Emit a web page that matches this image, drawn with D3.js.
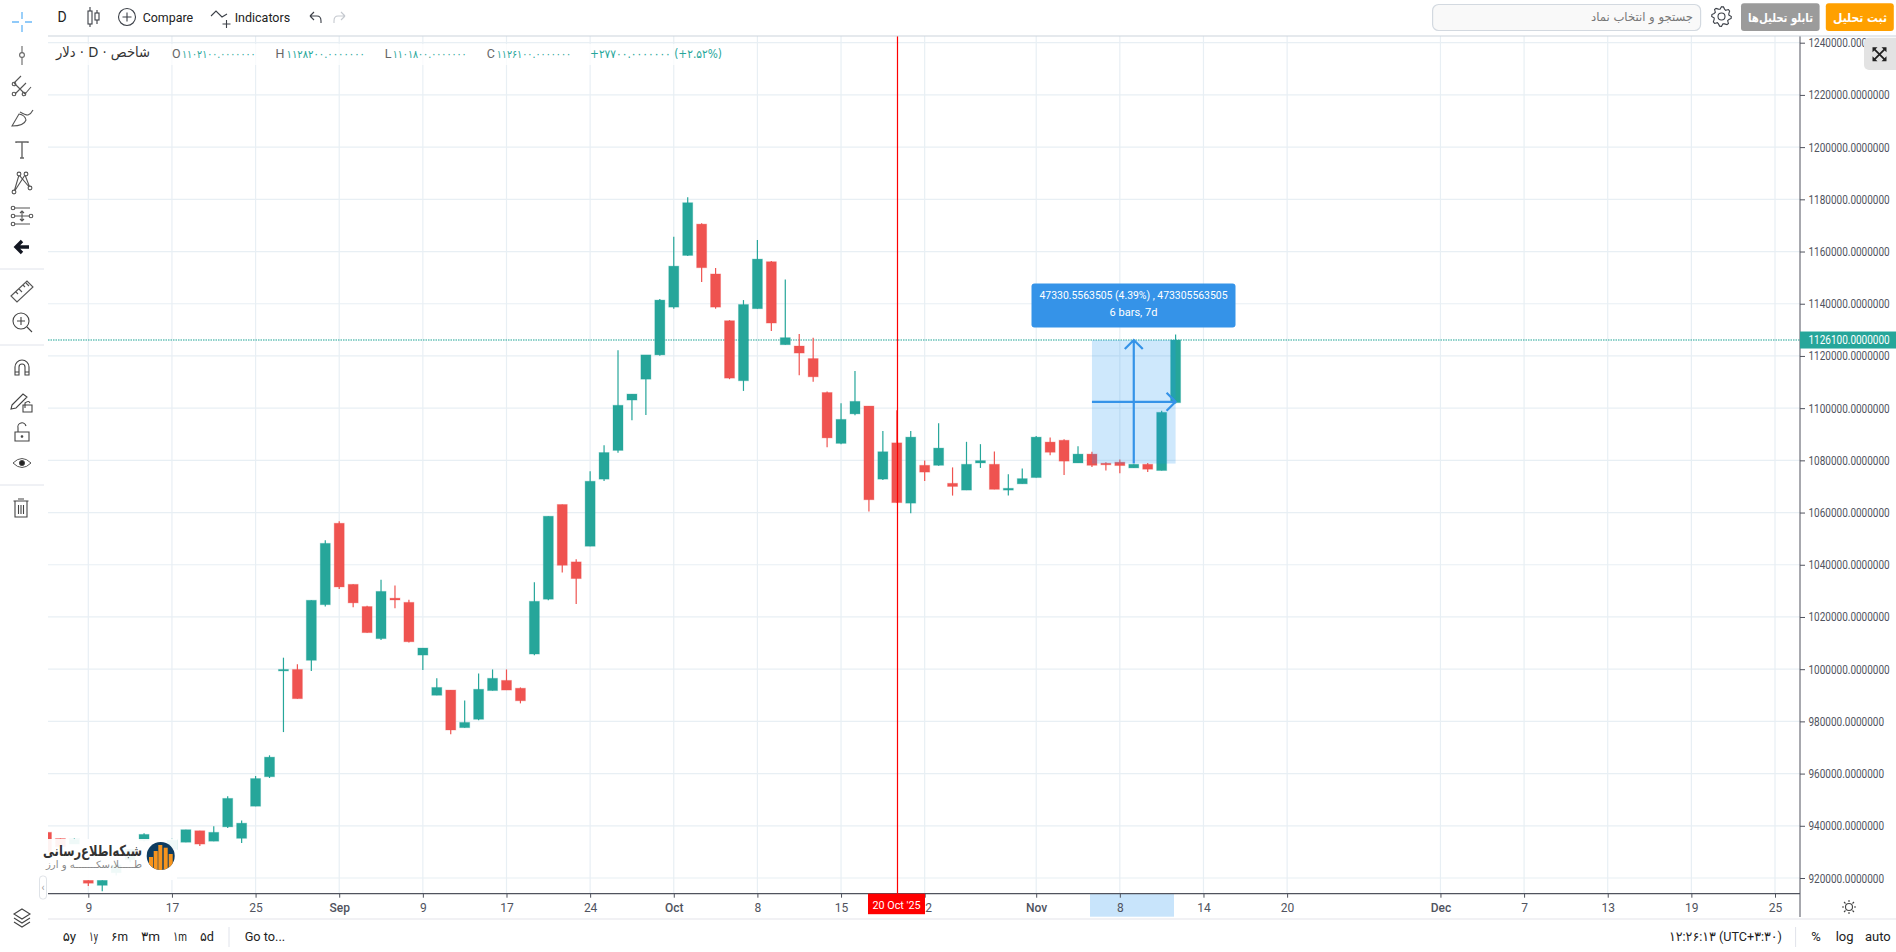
<!DOCTYPE html>
<html><head><meta charset="utf-8">
<style>html,body{margin:0;padding:0;background:#fff;overflow:hidden}svg{display:block}text{font-family:Roboto,"DejaVu Sans",sans-serif}</style>
<script src="https://cdn.jsdelivr.net/npm/d3@7/dist/d3.min.js"></script>
</head><body><svg id="c" width="1896" height="952"></svg>
<script>
// ---- data ----
const firstBarIndex = -3;
const opens  = [937500,935100,933000,919100,917200,922000,927000,934400,933000,931000,933700,938100,934100,939600,935200,947500,958800,999700,999900,1003400,1024700,1055900,1032500,1024000,1011700,1027200,1025600,1005400,990000,992000,977600,980800,991800,995700,992700,1005800,1026800,1063100,1041100,1047100,1072800,1083800,1103100,1111100,1120400,1138700,1158500,1170500,1151400,1133500,1110500,1138100,1156100,1124300,1123800,1119000,1106000,1086500,1097800,1100800,1072800,1086700,1063600,1078100,1078100,1071200,1068600,1079000,1078500,1068600,1071000,1073400,1087000,1087700,1079000,1082400,1078900,1079300,1077100,1078500,1076100,1102100];
const highs  = [937500,935100,935100,919100,919100,926000,931000,937100,934000,935000,938500,938100,939800,951300,942000,959100,967000,1004400,1001900,1026400,1049400,1056700,1032500,1024300,1034300,1032100,1026600,1008100,996500,992000,988000,998300,999900,999900,993000,1033300,1058600,1063100,1042100,1075800,1085800,1122200,1105400,1120400,1141800,1165700,1180800,1170800,1153700,1133700,1141400,1164400,1156400,1149300,1128400,1127000,1106400,1101900,1114200,1100800,1091200,1099200,1091200,1079900,1094200,1077300,1087100,1086200,1083400,1074700,1076900,1089300,1088800,1088100,1085400,1083300,1079300,1080300,1078500,1079000,1099000,1128200];
const lows   = [930000,932000,933000,916900,914900,921000,926000,934000,931000,930500,933700,932300,934100,939200,933400,947500,958300,975900,988700,999300,1024000,1030700,1023700,1014000,1011200,1023300,1010200,999700,990000,975100,977600,980400,991800,992000,986900,1005300,1026400,1037000,1025000,1047100,1072100,1082900,1095400,1097400,1120100,1138100,1158300,1148300,1138100,1111100,1106600,1138100,1129600,1124300,1112600,1110100,1085000,1086200,1097300,1060400,1072500,1063800,1059700,1072100,1077900,1066500,1068600,1077100,1068900,1066500,1071000,1073400,1082000,1074400,1079000,1077500,1076100,1075100,1077100,1075500,1076100,1101800];
const closes = [930000,932000,934800,918000,919100,925000,931000,936700,931000,934500,938500,933000,937500,950500,941000,958100,966300,999900,988700,1026400,1048200,1031500,1025400,1014000,1029800,1026500,1010500,1008100,993000,976700,979600,992300,996500,992000,987900,1026000,1058600,1039800,1034700,1072000,1083000,1101100,1105400,1120400,1141400,1154400,1178700,1153800,1138700,1111500,1139700,1157100,1132600,1127000,1121100,1112000,1088600,1095700,1102600,1064900,1083300,1063800,1088900,1075500,1084700,1070000,1078500,1079900,1068900,1069300,1073000,1088900,1083100,1079700,1082400,1078100,1078300,1078000,1078500,1076600,1098400,1126100];
const priceTicks = [920000,940000,960000,980000,1000000,1020000,1040000,1060000,1080000,1100000,1120000,1140000,1160000,1180000,1200000,1220000,1240000];
const timeTickIndex = [0,6,12,18,24,30,36,42,48,54,60,68,74,80,86,97,103,109,115,121];
const timeTickLabel = ["9","17","25","Sep","9","17","24","Oct","8","15","22","Nov","8","14","20","Dec","7","13","19","25"];
const crosshairIndex = 58.05, crosshairLabel = "20 Oct '25";
const lastPrice = 1126100, lastPriceLabel = "1126100.0000000";
const measureFromIndex = 72, measureToIndex = 78, measureLow = 1078770, measureHigh = 1126100;
const measureLine1 = "47330.5563505 (4.39%) , 473305563505", measureLine2 = "6 bars, 7d";

// ---- scales ----
const svg = d3.select("#c");
const L=48,R=1800,T=36,B=893.7;
const x = d3.scaleLinear().domain([0,121]).range([88.3,1775]);
const y = d3.scaleLinear().domain([920000,1240000]).range([878,42.7]);
const UP="#26a69a",DN="#ef5350",INK="#50535e",GRID="#e8eff4";
const fit=(s,w)=>s.attr("textLength",w).attr("lengthAdjust","spacingAndGlyphs");
function txt(p,t,px,py,o={}){const e=p.append("text").text(t).attr("x",px).attr("y",py).attr("dy","0.35em")
  .attr("font-size",o.size||13).attr("fill",o.fill||"#2a2e39").attr("text-anchor",o.anchor||"start");
  if(o.weight)e.attr("font-weight",o.weight); if(o.dir)e.attr("direction",o.dir); if(o.font)e.style("font-family",o.font);
  if(o.w)fit(e,o.w); return e;}
svg.append("defs").append("clipPath").attr("id","plot").append("rect").attr("x",L).attr("y",T).attr("width",R-L).attr("height",B-T);

// ---- grid ----
const grid=svg.append("g").attr("clip-path","url(#plot)").attr("stroke",GRID).attr("stroke-width",1.2);
grid.selectAll("line.h").data(priceTicks).join("line").attr("x1",L).attr("x2",R).attr("y1",d=>y(d)).attr("y2",d=>y(d));
grid.selectAll("line.v").data(timeTickIndex).join("line").attr("x1",d=>x(d)).attr("x2",d=>x(d)).attr("y1",T).attr("y2",B);

// ---- last price line ----
svg.append("line").attr("x1",L).attr("x2",R).attr("y1",y(lastPrice)).attr("y2",y(lastPrice))
  .attr("stroke",UP).attr("stroke-opacity",.7).attr("stroke-width",1.3).attr("stroke-dasharray","1.5 1");

// ---- candles ----
const bars=opens.map((o,k)=>({i:firstBarIndex+k,o,h:highs[k],l:lows[k],c:closes[k]}));
const cg=svg.append("g").attr("clip-path","url(#plot)");
cg.selectAll("line").data(bars).join("line").attr("x1",d=>x(d.i)).attr("x2",d=>x(d.i))
  .attr("y1",d=>y(d.h)).attr("y2",d=>y(d.l)).attr("stroke",d=>d.c>=d.o?UP:DN).attr("stroke-width",1.2);
cg.selectAll("rect").data(bars).join("rect").attr("x",d=>x(d.i)-5).attr("width",10)
  .attr("y",d=>y(Math.max(d.o,d.c))).attr("height",d=>Math.max(1.5,Math.abs(y(d.o)-y(d.c))))
  .attr("fill",d=>d.c>=d.o?UP:DN).attr("stroke",d=>d.c>=d.o?UP:DN).attr("stroke-opacity",.3).attr("stroke-width",1);

// ---- measure tool ----
const mx0=x(measureFromIndex),mx1=x(measureToIndex),my0=y(measureHigh),my1=y(measureLow),mxm=x((measureFromIndex+measureToIndex)/2),mym=(my0+my1)/2;
const mg=svg.append("g");
mg.append("rect").attr("x",mx0).attr("y",my0).attr("width",mx1-mx0).attr("height",my1-my0).attr("fill","#2196f3").attr("fill-opacity",.22);
mg.append("path").attr("fill","none").attr("stroke","#3593e8").attr("stroke-width",2.2)
  .attr("d",d3.line()([[mxm,my1],[mxm,my0]])+d3.line()([[mxm-9,my0+9],[mxm,my0],[mxm+9,my0+9]])+d3.line()([[mx0,mym],[mx1,mym]])+d3.line()([[mx1-9,mym-9],[mx1,mym],[mx1-9,mym+9]]));
mg.append("rect").attr("x",1031.5).attr("y",283.5).attr("width",204).attr("height",44).attr("rx",3).attr("fill","#3593e8");
txt(mg,measureLine1,1133.5,294.5,{size:11.5,fill:"#fff",anchor:"middle",w:188});
txt(mg,measureLine2,1133.5,312,{size:11.5,fill:"#fff",anchor:"middle",w:48});

// ---- axes ----
const ya=svg.append("g").attr("transform",`translate(${R},0)`).call(d3.axisRight(y).tickValues(priceTicks).tickSize(5).tickPadding(3).tickFormat(d=>d.toFixed(7)));
ya.select(".domain").remove(); ya.selectAll("line").attr("stroke",INK);
ya.selectAll("text").attr("font-size",12.5).attr("fill",INK).attr("x",0).attr("transform","translate(8.5,0) scale(0.8,1)");
const xa=svg.append("g").attr("transform",`translate(0,${B})`);
svg.insert("rect","g").attr("x",1090).attr("y",B).attr("width",84).attr("height",23).attr("fill","#c8e4fb").raise();
xa.raise().call(d3.axisBottom(x).tickValues(timeTickIndex).tickSize(4).tickPadding(6).tickFormat((d,k)=>timeTickLabel[k]));
xa.select(".domain").remove(); xa.selectAll("line").attr("stroke",INK);
xa.selectAll("text").attr("font-size",12).attr("fill",INK).attr("font-weight",d=>[18,42,68,97].includes(d)?500:400);
svg.append("line").attr("x1",L).attr("x2",R).attr("y1",B).attr("y2",B).attr("stroke",INK).attr("stroke-width",1.3);
svg.append("line").attr("x1",R).attr("x2",R).attr("y1",T).attr("y2",917).attr("stroke",INK).attr("stroke-width",1);

// ---- last price label ----
svg.append("rect").attr("x",R).attr("y",y(lastPrice)-8.5).attr("width",96).attr("height",17).attr("fill",UP);
txt(svg,lastPriceLabel,0,0,{size:12.5,fill:"#fff"}).attr("transform",`translate(1808.5,${y(lastPrice)}) scale(0.8,1)`);

// ---- crosshair ----
const cx=x(crosshairIndex);
svg.append("rect").attr("x",cx-29.5).attr("y",B).attr("width",57).attr("height",20.5).attr("fill","#f00");
svg.append("line").attr("x1",cx).attr("x2",cx).attr("y1",T).attr("y2",B+4).attr("stroke","#f00").attr("stroke-width",1.2);
txt(svg,crosshairLabel,cx-1,905,{size:11.5,fill:"#fff",anchor:"middle",w:48});

// ---- legend ----
svg.append("rect").attr("x",L).attr("y",44).attr("width",680).attr("height",21).attr("fill","#fff").attr("fill-opacity",.75);
txt(svg,"شاخص · D · دلار",150,52,{size:14,anchor:"end",dir:"rtl",fill:"#333",font:"'DejaVu Sans'",w:94}).attr("text-anchor","start");
const legend=[["O","۱۱۰۲۱۰۰.۰۰۰۰۰۰۰",172,10,73.5],["H","۱۱۲۸۲۰۰.۰۰۰۰۰۰۰",275.5,11,78.5],["L","۱۱۰۱۸۰۰.۰۰۰۰۰۰۰",384.7,8,74],["C","۱۱۲۶۱۰۰.۰۰۰۰۰۰۰",486.7,10,74.5]];
legend.forEach(([a,b,px,lw,vw])=>{txt(svg,a,px,54,{size:12.5,fill:"#666"});txt(svg,b,px+lw,54.5,{size:11,fill:UP,font:"'DejaVu Sans'",w:vw});});
txt(svg,"+۲۷۷۰۰.۰۰۰۰۰۰۰ (+۲.۵۲%)",590,54,{size:11.5,fill:UP,font:"'DejaVu Sans'",w:132});

// ---- chrome lines ----
const ln=(a,b,c,d,col="#e0e3eb",w=1)=>svg.append("line").attr("x1",a).attr("y1",b).attr("x2",c).attr("y2",d).attr("stroke",col).attr("stroke-width",w);
ln(L,36,1896,36,"#cbd3dc",1.2); ln(L,919,1896,919,"#e3e3ea",1.2);
ln(0,269,44,269);ln(0,345,44,345);ln(0,485,44,485);
ln(229,927,229,947);ln(1795.6,927,1795.6,947);

// ---- top toolbar ----
const ic=(px,py)=>svg.append("g").attr("transform",`translate(${px},${py})`).attr("fill","none").attr("stroke","#3c4048").attr("stroke-width",1.1);
txt(svg,"D",62,17,{size:14,fill:"#222",anchor:"middle"});
let g=ic(94,17);
g.append("path").attr("d","M-4,-10V10M3,-7V7");g.append("rect").attr("x",-6).attr("y",-6).attr("width",4).attr("height",13).attr("fill","#fff");g.append("rect").attr("x",1).attr("y",-4).attr("width",4).attr("height",7).attr("fill","#fff");
g=ic(127,17);g.append("circle").attr("r",8.5);g.append("path").attr("d","M-4.5,0H4.5M0,-4.5V4.5");
txt(svg,"Compare",142.7,17,{size:13.5,fill:"#222",w:50.5});
g=ic(211,11);g.append("path").attr("d","M0,5L5,0L11,6L16,3M15.5,9V17M11.5,13H19.5");
txt(svg,"Indicators",234.7,17,{size:13.5,fill:"#222",w:55.5});
g=ic(315,17);g.append("path").attr("d","M-5,-1H2Q6,-1 6,4V6M-5,-1L-1,-5M-5,-1L-1,3");
g=ic(340,17).attr("stroke","#c5c9cf");g.append("path").attr("d","M5,-1H-2Q-6,-1 -6,4V6M5,-1L1,-5M5,-1L1,3");

// ---- top right ----
svg.append("rect").attr("x",1432.6).attr("y",4.5).attr("width",268).attr("height",26).attr("rx",6).attr("fill","#f9f9f9").attr("stroke","#d3d9e0").attr("stroke-width",1.2);
txt(svg,"جستجو و انتخاب نماد",1693,17,{size:12,fill:"#777",anchor:"start",dir:"rtl",font:"'DejaVu Sans'",w:102});
g=ic(1721.5,16.5);
g.append("circle").attr("r",3.5);
g.append("path").attr("d",d3.lineRadial().curve(d3.curveLinearClosed)(d3.range(32).map(k=>[k*Math.PI/16,[9.8,9.8,8,7.4][k%4]])));
svg.append("rect").attr("x",1741).attr("y",3.3).attr("width",78.6).attr("height",27.7).attr("rx",3).attr("fill","#9b9b9b");
txt(svg,"تابلو تحلیل‌ها",1813,17.5,{size:12,fill:"#fff",weight:700,dir:"rtl",font:"'DejaVu Sans'",w:65});
svg.append("rect").attr("x",1825.8).attr("y",3.3).attr("width",68).attr("height",27.7).attr("rx",3).attr("fill","#ffa000");
txt(svg,"ثبت تحلیل",1887,17.5,{size:12,fill:"#fff",weight:700,dir:"rtl",font:"'DejaVu Sans'",w:54});
svg.append("path").attr("d","M1896,37.7H1869a5,5 0 0 0 -5,5V65a5,5 0 0 0 5,5H1896Z").attr("fill","#e3e3e3");
g=ic(1879.5,54.3).attr("stroke","#222").attr("stroke-width",1.8);
g.append("path").attr("d","M-5,-5L5,5M5,-5L-5,5");
g.append("path").attr("fill","#222").attr("stroke","none").attr("d","M-7,-7H-2L-7,-2ZM7,-7H2L7,-2ZM-7,7H-2L-7,2ZM7,7H2L7,2Z");

// ---- left toolbar ----
g=ic(22,22).attr("stroke","#90caf9").attr("stroke-width",1.8);g.append("path").attr("d","M0,-10V-3M0,3V10M-10,0H-3M3,0H10");
g=ic(22,55).attr("stroke","#666");g.append("path").attr("d","M0,-9V-2.5M0,2.5V10");g.append("circle").attr("r",2.4);
g=ic(22,86).attr("stroke","#555");g.append("path").attr("d","M-8,-3L-1,-10M-8,-3L3,8M3,8L9,1M-7,8L4,-3");g.append("circle").attr("cx",-8).attr("cy",8).attr("r",1.8);g.append("circle").attr("cx",2).attr("cy",8).attr("r",1.8);g.append("circle").attr("cx",-8).attr("cy",-2).attr("r",1.8);
g=ic(22,119).attr("stroke","#555");g.append("path").attr("d","M-10,7L-3,-5Q3,-4 4,1Q2,7 -10,7ZM-2,-7Q3,-4 6,-4Q9,-5 11,-9");
g=ic(22,150).attr("stroke","#666").attr("stroke-width",1.4);g.append("path").attr("d","M-6,-7V-8H6V-7M0,-8V8M-2,8H2");
g=ic(22,183).attr("stroke","#555");g.append("path").attr("d","M-8,9L-3,-8L8,5L3,-8L-8,9");[[-8,9],[-3,-9],[8,5],[4,-9]].forEach(p=>g.append("circle").attr("cx",p[0]).attr("cy",p[1]).attr("r",1.9).attr("fill","#fff"));
g=ic(22,216).attr("stroke","#555");g.append("path").attr("d","M-8,-8H8M-8,0H8M-8,8H8M0,-5V5M-2,-3L0,-5L2,-3M-2,3L0,5L2,3");[[-9,-8],[-9,0],[-9,8],[9,0]].forEach(p=>g.append("circle").attr("cx",p[0]).attr("cy",p[1]).attr("r",1.8).attr("fill","#fff"));
g=ic(22,247).attr("stroke","#131722").attr("stroke-width",3.4);g.append("path").attr("d","M7,0H-5M0,-6L-6,0L0,6");
g=ic(22,291).attr("stroke","#555");g.append("path").attr("d","M-11,5L5,-10L11,-4L-5,11ZM-6,1L-4,3M-3,-2L0,1M1,-6L3,-4M4,-8L7,-5");
g=ic(22,322).attr("stroke","#444");g.append("circle").attr("cx",-1).attr("cy",-1).attr("r",8);g.append("path").attr("d","M-5,-1H3M-1,-5V3M5,5L10,10");
g=ic(22,368).attr("stroke","#444");g.append("path").attr("d","M-7,7V-1A7,7 0 0 1 7,-1V7H3V-1A3,3 0 0 0 -3,-1V7ZM-7,4H-3M3,4H7");
g=ic(20,400).attr("stroke","#444");g.append("path").attr("d","M-8,5L3,-6L7,-3L-4,8L-9,9ZM5,8V3Q9,0 10,3M3,5H12V12H3Z");
g=ic(22,432).attr("stroke","#444");g.append("path").attr("d","M-7,0H7V9H-7ZM-4,0V-4A4,4 0 0 1 4,-6");g.append("circle").attr("cy",4.5).attr("r",.8).attr("fill","#444");
g=ic(22,463).attr("stroke","#444").attr("stroke-width",.9);g.append("path").attr("d","M-9,0Q0,-9 9,0Q0,9 -9,0Z");g.append("circle").attr("r",2.6).attr("fill","#222");
g=ic(21,508).attr("stroke","#444");g.append("path").attr("d","M-6,-7H6V9H-6ZM-3,-9H3M-7.5,-7H7.5M-2.5,-3V6M0,-3V6M2.5,-3V6");
g=ic(22,917).attr("stroke","#444");g.append("path").attr("d","M0,-8L8,-3L0,2L-8,-3ZM-8,1L0,6L8,1M-8,5L0,10L8,5");
g=ic(1849,907).attr("stroke","#444");g.append("circle").attr("r",3.5);g.append("path").attr("d","M0,-7V-5M0,7V5M-7,0H-5M7,0H5M-5,-5L-3.5,-3.5M5,5L3.5,3.5M-5,5L-3.5,3.5M5,-5L3.5,-3.5");

// ---- watermark ----
svg.append("rect").attr("x",L-8).attr("y",839).attr("width",137).attr("height",41).attr("fill","#fff").attr("fill-opacity",.93);
const cp=svg.select("defs").append("clipPath").attr("id","lg");cp.append("circle").attr("cx",160.7).attr("cy",856).attr("r",14);
svg.append("circle").attr("cx",160.7).attr("cy",856).attr("r",14).attr("fill","#0e3c60");
const lgBars=[[149,857],[153.7,851],[158.3,845],[163.7,847.7],[168.7,854]];
svg.append("g").attr("clip-path","url(#lg)").selectAll("rect").data(lgBars).join("rect").attr("x",d=>d[0]).attr("y",d=>d[1]).attr("width",4).attr("height",d=>872-d[1]).attr("fill","#f7941d");
txt(svg,"شبکه‌اطلاع‌رسانی",142,850.5,{size:15,fill:"#333",weight:700,dir:"rtl",font:"'DejaVu Sans'",w:99});
txt(svg,"طـــــلا،سکـــــــه و ارز",142,864.5,{size:10,fill:"#888",dir:"rtl",font:"'DejaVu Sans'",w:96});
svg.append("rect").attr("x",39.5).attr("y",876).attr("width",7).attr("height",23).attr("rx",3).attr("fill","#fff").attr("stroke","#dfe3e8");
txt(svg,"‹",43,887.5,{size:10,fill:"#999",anchor:"middle"});

// ---- bottom bar ----
const bottom=[["۵y",62.7,13.5],["۱y",89,9],["۶m",111,17],["۳m",141,19],["۱m",173,14],["۵d",200,14]];
bottom.forEach(([t,px,w])=>txt(svg,t,px,936.7,{size:13,fill:"#222",font:"Roboto,'DejaVu Sans'",w}));
txt(svg,"Go to...",244.7,936.7,{size:13,fill:"#222",w:40.5});
txt(svg,"۱۲:۲۶:۱۳ (UTC+۳:۳۰)",1669,936.7,{size:13,fill:"#222",font:"Roboto,'DejaVu Sans'",w:113});
txt(svg,"%",1816,936.7,{size:13,fill:"#222",anchor:"middle"});
txt(svg,"log",1844.6,936.7,{size:13,fill:"#222",anchor:"middle"});
txt(svg,"auto",1877.8,936.7,{size:13,fill:"#222",anchor:"middle"});
</script></body></html>
